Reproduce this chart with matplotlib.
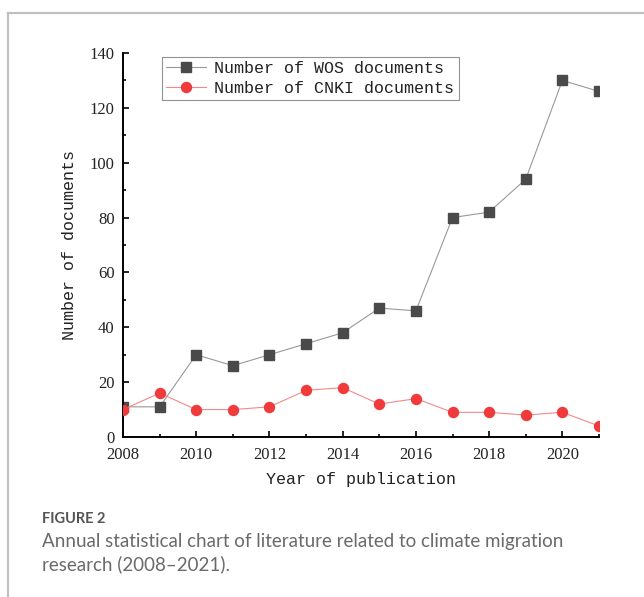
import matplotlib.pyplot as plt
from matplotlib.lines import Line2D
from matplotlib.ticker import MultipleLocator

years = [2008, 2009, 2010, 2011, 2012, 2013, 2014, 2015, 2016, 2017, 2018, 2019, 2020, 2021]
wos_docs = [11, 11, 30, 26, 30, 34, 38, 47, 46, 80, 82, 94, 130, 126]
cnki_docs = [10, 16, 10, 10, 11, 17, 18, 12, 14, 9, 9, 8, 9, 4]

mono = "Liberation Mono"
serif = "Liberation Serif"

fig = plt.figure(figsize=(6.44, 5.97), dpi=100)
ax = fig.add_axes([123 / 644, 1 - 437 / 597, (599 - 123) / 644, (437 - 53) / 597])

ax.plot(years, wos_docs, color="#999999", lw=0.8, marker="s", ms=6.5,
        mfc="#4a4a4a", mec="#4a4a4a", label="Number of WOS documents", zorder=2)
ax.plot(years, cnki_docs, color="#f28a8a", lw=0.8, marker="o", ms=7.2,
        mfc="#ef3b3b", mec="#ef3b3b", label="Number of CNKI documents", zorder=3)

ax.set_xlim(2008, 2021)
ax.set_ylim(0, 140)
ax.xaxis.set_major_locator(MultipleLocator(2))
ax.xaxis.set_minor_locator(MultipleLocator(1))
ax.yaxis.set_major_locator(MultipleLocator(20))
ax.yaxis.set_minor_locator(MultipleLocator(10))
ax.tick_params(which="major", direction="in", width=1.2, length=4.5, color="black")
ax.tick_params(which="minor", direction="in", width=1.2, length=2.3, color="black")
ax.tick_params(axis="x", which="major", pad=7.5)
ax.tick_params(axis="y", which="major", pad=6)
for lab in ax.get_xticklabels() + ax.get_yticklabels():
    lab.set_fontfamily(serif)
    lab.set_fontsize(12)
    lab.set_color("#222222")

for side in ["top", "right"]:
    ax.spines[side].set_visible(False)
for side in ["left", "bottom"]:
    ax.spines[side].set_linewidth(1.4)

ax.set_xlabel("Year of publication", family=mono, fontsize=12, color="#222222", labelpad=6)
ax.set_ylabel("Number of documents", family=mono, fontsize=12, color="#222222", labelpad=9)

leg = ax.legend(loc="upper left", bbox_to_anchor=(39 / 476, 1 - 4 / 384), prop={"family": mono, "size": 12},
                frameon=True, fancybox=False, edgecolor="#777777", handlelength=2.4,
                handletextpad=0.5, borderpad=0.25, labelspacing=0.3, borderaxespad=0)
leg.get_frame().set_linewidth(0.8)
for t in leg.get_texts():
    t.set_color("#222222")

# page-style frame and caption
fig.add_artist(Line2D([8 / 644, 8 / 644], [0, 1 - 13 / 597], color="#c0c0c0", lw=1.6))
fig.add_artist(Line2D([8 / 644, 1], [1 - 13 / 597, 1 - 13 / 597], color="#c0c0c0", lw=1.6))
fig.text(42 / 644, 1 - 519 / 597, "FIGURE 2", family="Lato", fontsize=10.5, color="#555555",
         va="center", fontweight="bold")
fig.text(42 / 644, 1 - 553 / 597,
         "Annual statistical chart of literature related to climate migration\nresearch (2008\u20132021).",
         family="Lato", fontsize=13.5, color="#6a6a6a", va="center", linespacing=1.3)

fig.savefig("out.png", dpi=100)
